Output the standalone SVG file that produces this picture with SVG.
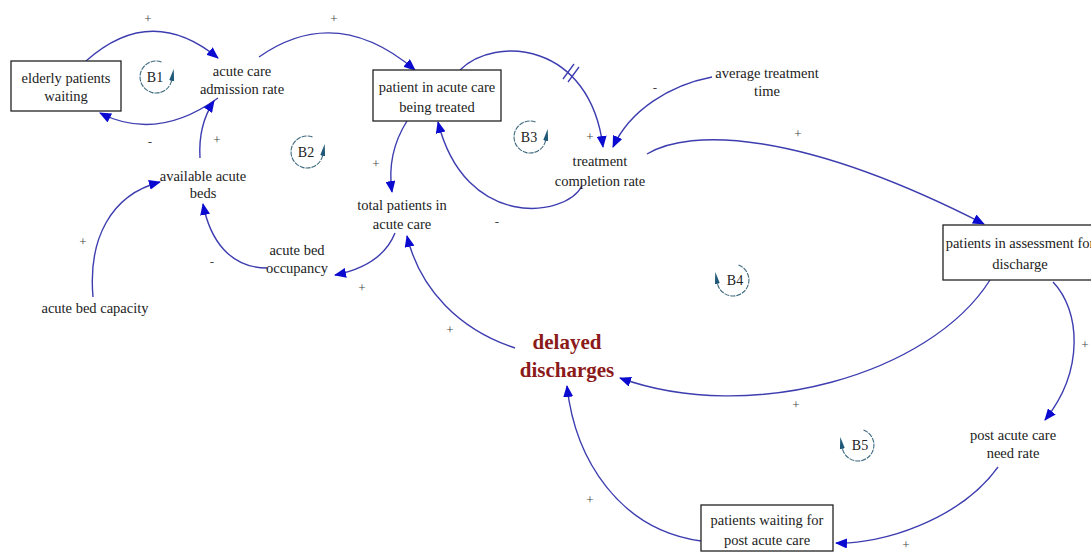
<svg xmlns="http://www.w3.org/2000/svg" width="1091" height="552" viewBox="0 0 1091 552">
<style>
text{font-family:"Liberation Serif","Times New Roman",serif;font-size:14.5px;fill:#222;text-anchor:middle}
.box{fill:#fff;stroke:#222;stroke-width:1.3}
.link{fill:none;stroke:#3d3db0;stroke-width:1.4;marker-end:url(#ah)}
.pol{font-size:13px;fill:#444}
.loop{fill:none;stroke:#3f6a80;stroke-width:1.1;stroke-dasharray:5 1;marker-end:url(#lh)}
.lt{font-size:14px}
.big{font-size:21px;font-weight:bold;fill:#8b1a1a}
</style>
<defs>
<marker id="ah" viewBox="0 0 12 10" refX="11" refY="5" markerWidth="12" markerHeight="10" markerUnits="userSpaceOnUse" orient="auto">
<path d="M0,0 L12,5 L0,10 Z" fill="#0a0ad0"/>
</marker>
<marker id="lh" viewBox="0 0 12 8" refX="1" refY="4" markerWidth="12" markerHeight="8" markerUnits="userSpaceOnUse" orient="auto">
<path d="M0,1.5 L12,4 L0,6.5 Z" fill="#1f5878"/>
</marker>
</defs>

<g id="connectors">
<path class="link" d="M86,61 Q151,3 218,58"/>
<path class="link" d="M218,98 Q157,142 100,113"/>
<path class="link" d="M200,158 Q198,125 214,101"/>
<path class="link" d="M259,57 Q336,3 415,70"/>
<path class="link" d="M460,70 C495,35 590,42 603,147"/>
<path d="M563,79 L574,64 M568,82 L579,67" stroke="#3d3db0" stroke-width="1.3" fill="none"/>
<path class="link" d="M712,77 C670,85 630,110 613,147"/>
<path class="link" d="M582,186 C565,218 465,230 438,122"/>
<path class="link" d="M647,154 C690,128 800,130 984,224"/>
<path class="link" d="M407,121 C395,140 388,165 392,192"/>
<path class="link" d="M395,233 C385,258 360,270 335,275"/>
<path class="link" d="M267,268 C230,268 210,240 203,204"/>
<path class="link" d="M93,297 C88,240 110,195 160,182"/>
<path class="link" d="M515,348 C460,330 420,290 407,236"/>
<path class="link" d="M990,280 C930,375 750,425 620,378"/>
<path class="link" d="M1053,282 C1080,310 1085,370 1045,420"/>
<path class="link" d="M998,467 C960,520 880,545 836,543"/>
<path class="link" d="M701,541 C620,530 575,460 567,386"/>
<text class="pol" x="148" y="23">+</text>
<text class="pol" x="150" y="146">-</text>
<text class="pol" x="217" y="144">+</text>
<text class="pol" x="334" y="23">+</text>
<text class="pol" x="590" y="141">+</text>
<text class="pol" x="655" y="92">-</text>
<text class="pol" x="497" y="226">-</text>
<text class="pol" x="798" y="138">+</text>
<text class="pol" x="376" y="168">+</text>
<text class="pol" x="362" y="292">+</text>
<text class="pol" x="212" y="266">-</text>
<text class="pol" x="83" y="246">+</text>
<text class="pol" x="450" y="334">+</text>
<text class="pol" x="796" y="409">+</text>
<text class="pol" x="1085" y="349">+</text>
<text class="pol" x="906" y="549">+</text>
<text class="pol" x="590" y="504">+</text>
</g>

<g id="loop-B1"><path class="loop" d="M161.5,62 A16,16 0 1,0 171.8,79.8"/><text class="lt" x="155" y="82">B1</text></g>
<g id="loop-B2"><path class="loop" d="M312.5,137 A16,16 0 1,0 322.8,154.8"/><text class="lt" x="306" y="157">B2</text></g>
<g id="loop-B3"><path class="loop" d="M535.5,122 A16,16 0 1,0 545.8,139.8"/><text class="lt" x="529" y="142">B3</text></g>
<g id="loop-B4"><path class="loop" d="M738.5,265 A16,16 0 1,1 717.2,282.8"/><text class="lt" x="735" y="285">B4</text></g>
<g id="loop-B5"><path class="loop" d="M863.5,430 A16,16 0 1,1 842.2,447.8"/><text class="lt" x="860" y="450">B5</text></g>

<g id="elderly-patients-waiting"><rect class="box" x="11" y="61" width="110" height="50"/><text x="66" y="83">elderly patients</text><text x="66" y="101">waiting</text></g>
<g id="acute-care-admission-rate"><text x="242" y="76">acute care</text><text x="242" y="94">admission rate</text></g>
<g id="patient-in-acute-care"><rect class="box" x="373" y="70" width="128" height="51"/><text x="437" y="92">patient in acute care</text><text x="437" y="112">being treated</text></g>
<g id="average-treatment-time"><text x="767" y="78">average treatment</text><text x="767" y="96">time</text></g>
<g id="treatment-completion-rate"><text x="600" y="166">treatment</text><text x="600" y="186">completion rate</text></g>
<g id="available-acute-beds"><text x="203" y="181">available acute</text><text x="203" y="198">beds</text></g>
<g id="total-patients-in-acute-care"><text x="402" y="210">total patients in</text><text x="402" y="229">acute care</text></g>
<g id="acute-bed-occupancy"><text x="297" y="255">acute bed</text><text x="297" y="273">occupancy</text></g>
<g id="acute-bed-capacity"><text x="95" y="313">acute bed capacity</text></g>
<g id="patients-in-assessment"><rect class="box" x="943" y="225" width="154" height="55"/><text x="1020" y="248">patients in assessment for</text><text x="1020" y="269">discharge</text></g>
<g id="delayed-discharges"><text class="big" x="567" y="349">delayed</text><text class="big" x="567" y="377">discharges</text></g>
<g id="post-acute-care-need-rate"><text x="1013" y="440">post acute care</text><text x="1013" y="458">need rate</text></g>
<g id="patients-waiting-post-acute"><rect class="box" x="701" y="505" width="132" height="46"/><text x="767" y="525">patients waiting for</text><text x="767" y="545">post acute care</text></g>
</svg>
